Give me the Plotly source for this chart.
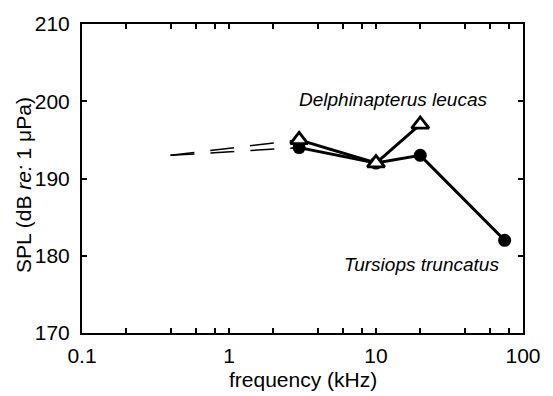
import plotly.graph_objects as go

# Data
freq_tt = [3, 10, 20, 75]
spl_tt = [194, 192, 193, 182]
freq_dl = [3, 10, 20]
spl_dl = [195, 192, 197]
freq_dash = [0.4, 3]
spl_dash_tt = [193, 194]
spl_dash_dl = [193, 195]

x_tickvals = [0.1, 0.2, 0.4, 0.6, 0.8, 1, 2, 4, 6, 8, 10, 20, 40, 60, 80, 100]
x_ticktext = ["0.1", "", "", "", "", "1", "", "", "", "", "10", "", "", "", "", "100"]
y_tickvals = [170, 180, 190, 200, 210]

FONT = "Liberation Sans, Arial, Helvetica, sans-serif"

fig = go.Figure()
fig.add_trace(go.Scatter(x=freq_dash, y=spl_dash_tt, mode="lines",
                         line=dict(color="black", width=1.5, dash="24px,16px"),
                         showlegend=False, hoverinfo="skip"))
fig.add_trace(go.Scatter(x=freq_dash, y=spl_dash_dl, mode="lines",
                         line=dict(color="black", width=1.5, dash="24px,16px"),
                         showlegend=False, hoverinfo="skip"))
fig.add_trace(go.Scatter(x=freq_tt, y=spl_tt, mode="lines+markers",
                         line=dict(color="black", width=3),
                         marker=dict(symbol="circle", size=13, color="black"),
                         name="Tursiops truncatus", showlegend=False))
fig.add_trace(go.Scatter(x=freq_dl, y=spl_dl, mode="lines+markers",
                         line=dict(color="black", width=3),
                         marker=dict(symbol="triangle-up", size=15, color="white",
                                     line=dict(color="black", width=2.8)),
                         name="Delphinapterus leucas", showlegend=False))

fig.update_layout(
    width=553, height=396,
    margin=dict(l=82, r=21, t=18, b=63),
    paper_bgcolor="white", plot_bgcolor="white",
    font=dict(family=FONT, size=21, color="black"),
    xaxis=dict(type="log", range=[-1, 2], tickvals=x_tickvals, ticktext=x_ticktext,
               ticks="inside", ticklen=5, tickwidth=1.5, tickcolor="black",
               showline=True, linecolor="black", linewidth=2, mirror="allticks",
               showgrid=False, zeroline=False, ticklabelstandoff=3),
    yaxis=dict(range=[170, 210], tickvals=y_tickvals,
               ticks="inside", ticklen=5, tickwidth=1.5, tickcolor="black",
               showline=True, linecolor="black", linewidth=2, mirror="allticks",
               showgrid=False, zeroline=False, ticklabelstandoff=6),
    annotations=[
        dict(text="SPL (dB <i>re:</i> 1 μPa)", xref="paper", yref="paper",
             x=-0.133, y=0.48, xanchor="center", yanchor="middle",
             textangle=-90, showarrow=False, font=dict(size=21)),
        dict(text="frequency (kHz)", xref="paper", yref="paper",
             x=0.5, y=-0.152, xanchor="center", yanchor="middle",
             showarrow=False, font=dict(size=21)),
        dict(text="<i>Delphinapterus leucas</i>", xref="paper", yref="paper",
             x=(400 - 82) / 450, y=(333 - 95) / 315, xanchor="center", yanchor="middle",
             showarrow=False, font=dict(size=19)),
        dict(text="<i>Tursiops truncatus</i>", xref="paper", yref="paper",
             x=(428 - 82) / 450, y=(333 - 263) / 315, xanchor="center", yanchor="middle",
             showarrow=False, font=dict(size=19)),
    ],
)

fig.write_html("out.html")
